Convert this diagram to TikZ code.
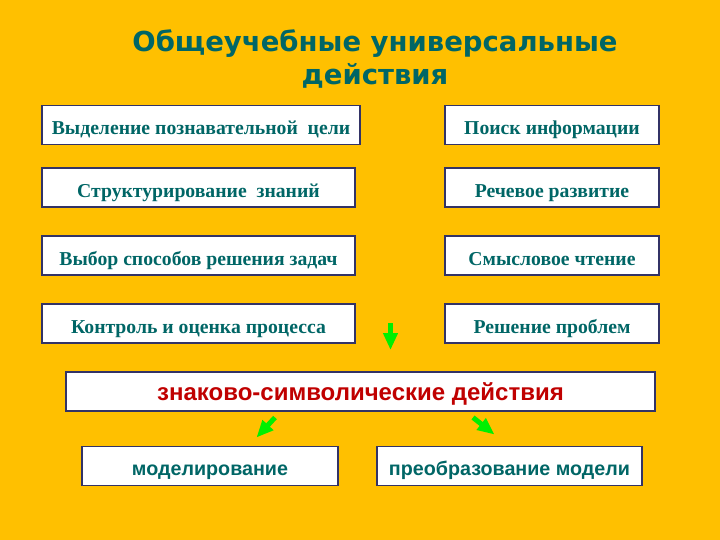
\documentclass[tikz,border=0pt]{standalone}
\usepackage{fontspec}
\setmainfont{Liberation Serif}
\setsansfont{Liberation Sans}
\newfontfamily\titlefont{DejaVu Sans}
\usetikzlibrary{arrows.meta}

\definecolor{slideyellow}{RGB}{255,192,0}
\definecolor{tealtext}{RGB}{0,102,102}
\definecolor{redtext}{RGB}{192,0,0}
\definecolor{boxline}{RGB}{51,51,102}
\definecolor{arrowgreen}{RGB}{0,240,0}

\begin{document}
\begin{tikzpicture}[x=1pt, y=-1pt]
        \tikzstyle{uud_box}   = [shape = rectangle, draw = boxline, fill = white, line width = 1.8pt,
                                 minimum height = 39pt, inner sep = 0pt, text = tealtext,
                                 text height = 19pt, text depth = 0pt,
                                 font = \fontsize{19.7}{22}\selectfont\bfseries]
        \tikzstyle{sign_box}  = [uud_box, text height = 18pt,
                                 font = \sffamily\fontsize{19.7}{22}\selectfont\bfseries]
        \tikzstyle{green_arr} = [draw = arrowgreen, line width = 5pt,
                                 -{Triangle[length = 17pt, width = 14pt]}]

        % background
        \fill[slideyellow] (0,0) rectangle (720,540);
        \useasboundingbox (0,0) rectangle (720,540);

        \node[text = tealtext, align = center, anchor = base, inner sep = 0pt,
              font = \titlefont\fontsize{27.5}{33}\selectfont\bfseries] at (375,85) (title)
              {Общеучебные универсальные\\действия};

        % left column
        \node[uud_box, minimum width = 318pt] at (201,125)   (goal)    {Выделение познавательной\ \ цели};
        \node[uud_box, minimum width = 313pt] at (198.5,187.5) (struct) {Структурирование\ \ знаний};
        \node[uud_box, minimum width = 313pt] at (198.5,255.5) (choice) {Выбор способов решения задач};
        \node[uud_box, minimum width = 313pt] at (198.5,323.5) (control) {Контроль и оценка процесса};

        % right column
        \node[uud_box, minimum width = 214pt] at (552,125)   (search)  {Поиск информации};
        \node[uud_box, minimum width = 214pt] at (552,187.5) (speech)  {Речевое развитие};
        \node[uud_box, minimum width = 214pt] at (552,255.5) (reading) {Смысловое чтение};
        \node[uud_box, minimum width = 214pt] at (552,323.5) (problem) {Решение проблем};

        % sign-symbolic actions
        \node[sign_box, minimum width = 589pt, text = redtext, text height = 18.4pt,
              font = \sffamily\fontsize{24}{28}\selectfont\bfseries] at (360.5,391.5) (sign)
              {знаково-символические действия};
        \node[sign_box, minimum width = 256pt] at (210,466)   (model)     {моделирование};
        \node[sign_box, minimum width = 265pt] at (509.5,466) (transform) {преобразование модели};

        \coordinate (down_t)  at (390.5,323);
        \coordinate (down_h)  at (390.5,350);
        \coordinate (left_t)  at (275,417.5);
        \coordinate (left_h)  at (256.5,437.5);
        \coordinate (right_t) at (473,417.5);
        \coordinate (right_h) at (494.5,434.5);

        \draw[green_arr] (down_t)  -- (down_h);
        \draw[green_arr] (left_t)  -- (left_h);
        \draw[green_arr] (right_t) -- (right_h);
      \end{tikzpicture}
\end{document}
